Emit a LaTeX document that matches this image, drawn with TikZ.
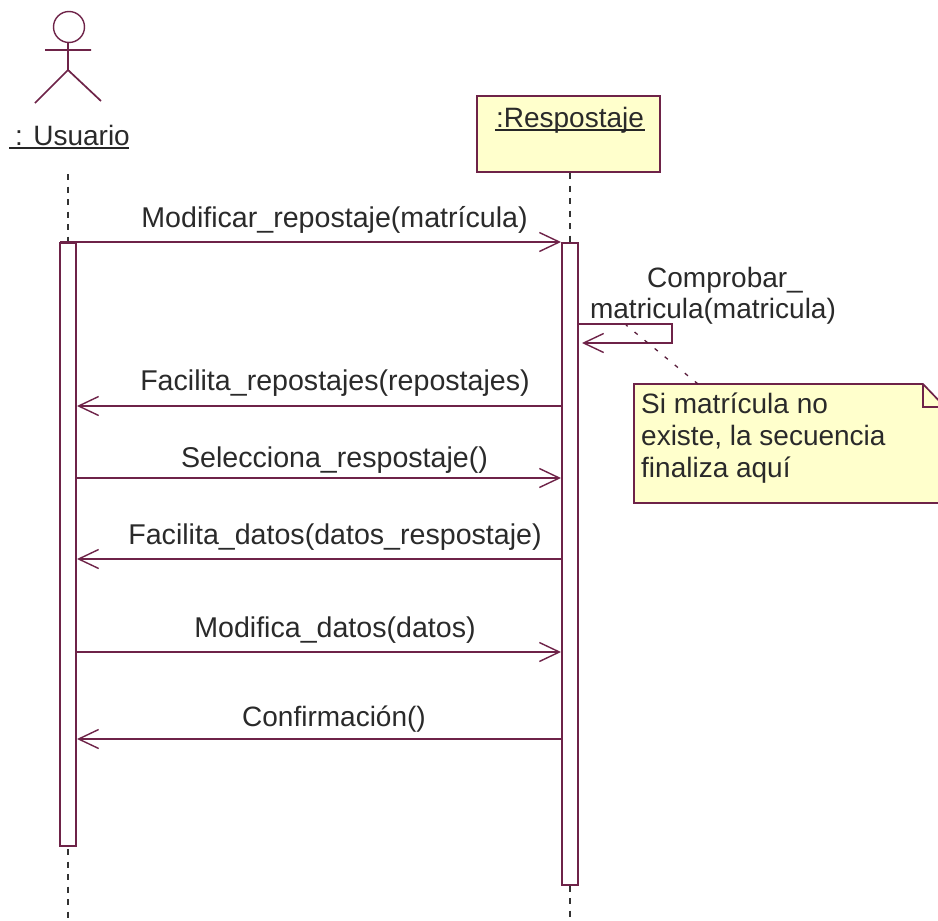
\documentclass[tikz,border=0pt]{standalone}
\usepackage{fontspec}
\setmainfont{Liberation Sans}
\usetikzlibrary{arrows.meta}
\definecolor{umlline}{HTML}{6E2348}
\definecolor{umlfill}{HTML}{FFFFCC}
\definecolor{umltext}{HTML}{2A2A2A}
\tikzset{
  x=1pt,y=-1pt,
  umlstroke/.style={draw=umlline,line width=1.7pt},
  msg/.style={umlstroke,-{Straight Barb[length=20pt,width=19pt,line width=1.4pt]}},
  lifeline/.style={draw=black!80,line width=1.7pt,dash pattern=on 6pt off 6.5pt},
  notelink/.style={draw=umlline!80!black,line width=1.3pt,dash pattern=on 4pt off 9pt},
  activation/.style={umlstroke,fill=white,minimum width=16pt,inner sep=0pt,anchor=north},
  lbl/.style={text=umltext,font=\fontsize{28}{33}\selectfont,inner sep=0pt},
  msglbl/.style={text=umltext,font=\fontsize{28.6}{33}\selectfont,inner sep=0pt,anchor=base},
}
\begin{document}
\begin{tikzpicture}
\useasboundingbox (0,0) rectangle (938,921);
\fill[white] (0,0) rectangle (938,921);
% actor
\node[draw=umlline,line width=1.4pt,circle,minimum size=31pt,inner sep=0pt] (head) at (69,27) {};
\coordinate (hip) at (68,70);
\coordinate (armL) at (45,50);
\coordinate (armR) at (91,50);
\coordinate (legL) at (35,103);
\coordinate (legR) at (101,101);
\draw[umlstroke] (head.south -| hip) -- (hip) (armL) -- (armR) (legL) -- (hip) -- (legR);
\node[lbl,anchor=base] (usuario) at (72.5,145) {: Usuario};
\coordinate (uL) at (9,148);
\coordinate (uR) at (129,148);
\draw[draw=black!85,line width=1.6pt] (uL) -- (uR);
% object
\node[umlstroke,fill=umlfill,minimum width=183pt,minimum height=76pt,inner sep=0pt] (obj) at (568.5,134) {};
\node[lbl,anchor=base] (objlbl) at (570,127) {:Respostaje};
\coordinate (oL) at (495,130);
\coordinate (oR) at (645,130);
\draw[draw=black!85,line width=1.5pt] (oL) -- (oR);
% lifelines
\coordinate (ltop) at (68,174);
\coordinate (lbot) at (68,921);
\coordinate (rtop) at (570,173);
\coordinate (rbot) at (570,921);
\draw[lifeline] (ltop) -- (lbot);
\draw[lifeline] (rtop) -- (rbot);
% activations
\node[activation,minimum height=603pt] (actL) at (68,242) {};
\node[activation,minimum height=642pt] (actR) at (570,242) {};
% message ends on the activations
\coordinate (m1a) at (60,242); \coordinate (m1b) at (561,242);
\coordinate (m2a) at (562,406); \coordinate (m2b) at (77,406);
\coordinate (m3a) at (76,478); \coordinate (m3b) at (561,478);
\coordinate (m4a) at (562,559); \coordinate (m4b) at (77,559);
\coordinate (m5a) at (76,652); \coordinate (m5b) at (561,652);
\coordinate (m6a) at (562,739); \coordinate (m6b) at (77,739);
\draw[msg] (m1a) -- (m1b);
\draw[msg] (m2a) -- (m2b);
\draw[msg] (m3a) -- (m3b);
\draw[msg] (m4a) -- (m4b);
\draw[msg] (m5a) -- (m5b);
\draw[msg] (m6a) -- (m6b);
% self message
\coordinate (s1) at (578,324); \coordinate (s2) at (672,324);
\coordinate (s3) at (672,343); \coordinate (s4) at (582,343);
\draw[msg] (s1) -- (s2) -- (s3) -- (s4);
% labels
\node[msglbl] (l1) at (334.5,227) {Modificar\_repostaje(matrícula)};
\node[lbl,anchor=base] (l2a) at (725,287) {Comprobar\_};
\node[lbl,anchor=base] (l2b) at (713,318) {matricula(matricula)};
\node[msglbl] (l3) at (335,390) {Facilita\_repostajes(repostajes)};
\node[msglbl] (l4) at (334.5,467) {Selecciona\_respostaje()};
\node[msglbl] (l5) at (335,544) {Facilita\_datos(datos\_respostaje)};
\node[msglbl] (l6) at (335,637) {Modifica\_datos(datos)};
\node[lbl,anchor=base] (l7) at (334,726) {Confirmación()};
% note
\coordinate (nA) at (634,384); \coordinate (nB) at (923,384);
\coordinate (nC) at (945,407); \coordinate (nD) at (945,503); \coordinate (nE) at (634,503);
\coordinate (nF) at (923,407);
\path[umlstroke,fill=umlfill] (nA) -- (nB) -- (nC) -- (nD) -- (nE) -- cycle;
\draw[umlstroke] (nB) -- (nF) -- (nC);
\node[lbl,anchor=base west,align=left] (n1) at (641,413) {Si matrícula no};
\node[lbl,anchor=base west,align=left] (n2) at (641,445) {existe, la secuencia};
\node[lbl,anchor=base west,align=left] (n3) at (641,477) {finaliza aquí};
\coordinate (nl) at (698,384); \coordinate (nl2) at (626,325);
\draw[notelink] (nl) -- (nl2);
\end{tikzpicture}
\end{document}
